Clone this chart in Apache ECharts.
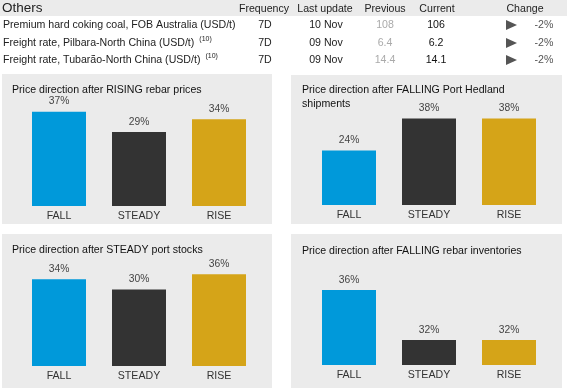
<!DOCTYPE html>
<html>
<head>
<meta charset="utf-8">
<script src="https://cdn.jsdelivr.net/npm/echarts@6/dist/echarts.min.js"></script>
<style>
html,body{margin:0;padding:0;background:#fff;}
#c{width:567px;height:388px;}
</style>
</head>
<body>
<div id="c"></div>
<script>
// ---- Data ----
const categories = ['FALL', 'STEADY', 'RISE'];
const risingRebarPrices = [37, 29, 34];
const fallingPortHedland = [24, 38, 38];
const steadyPortStocks = [34, 30, 36];
const fallingRebarInventories = [36, 32, 32];
const panelTitles = [
  'Price direction after RISING rebar prices',
  'Price direction after FALLING Port Hedland\nshipments',
  'Price direction after STEADY port stocks',
  'Price direction after FALLING rebar inventories'
];
const barColors = ['#0099DA', '#333333', '#D5A418'];

const tableSection = 'Others';
const tableHeaders = ['Frequency', 'Last update', 'Previous', 'Current', 'Change'];
const tableItems = [
  'Premium hard coking coal, FOB Australia (USD/t)',
  'Freight rate, Pilbara-North China (USD/t)',
  'Freight rate, Tubarão-North China (USD/t)'
];
const tableNotes = ['', '(10)', '(10)'];
const frequency = ['7D', '7D', '7D'];
const lastUpdate = ['10 Nov', '09 Nov', '09 Nov'];
const previous = ['108', '6.4', '14.4'];
const current = ['106', '6.2', '14.1'];
const change = ['-2%', '-2%', '-2%'];

// ---- Layout ----
const FONT = 'Liberation Sans, Arial, sans-serif';
const FS = 10.6;
const panels = [
  { data: risingRebarPrices, bg: [2, 74, 270, 150], grid: { left: 19, width: 240, top: 104, height: 102 }, min: 0, max: 40, title: [12, 83] },
  { data: fallingPortHedland, bg: [291, 75, 271, 149], grid: { left: 309, width: 240, top: 114, height: 91 }, min: 0, max: 40, title: [302, 83] },
  { data: steadyPortStocks, bg: [2, 234, 270, 154], grid: { left: 19, width: 240, top: 264, height: 102 }, min: 0, max: 40, title: [12, 243] },
  { data: fallingRebarInventories, bg: [291, 234, 271, 154], grid: { left: 309, width: 240, top: 265, height: 100 }, min: 30, max: 38, title: [302, 244] }
];

const cvs = document.createElement('canvas').getContext('2d');
cvs.font = FS + 'px ' + FONT;

const graphics = [];
// header band
graphics.push({ type: 'rect', shape: { x: 0, y: 0, width: 567, height: 16 }, style: { fill: '#EBEBEB' }, z: 0 });
graphics.push({ type: 'text', style: { text: tableSection, x: 2, y: 8.5, fontSize: 13.5, fontFamily: FONT, fill: '#222', verticalAlign: 'middle', align: 'left' }, z: 1 });
const colX = [264, 325, 385, 437, 525];
tableHeaders.forEach((h, i) => {
  graphics.push({ type: 'text', style: { text: h, x: colX[i], y: 9, fontSize: FS, fontFamily: FONT, fill: '#222', verticalAlign: 'middle', align: 'center' }, z: 1 });
});
const rowY = [25, 43, 60];
tableItems.forEach((t, r) => {
  const y = rowY[r];
  graphics.push({ type: 'text', style: { text: t, x: 3, y: y, fontSize: FS, fontFamily: FONT, fill: '#222', verticalAlign: 'middle', align: 'left' }, z: 1 });
  if (tableNotes[r]) {
    const w = cvs.measureText(t).width;
    graphics.push({ type: 'text', style: { text: tableNotes[r], x: 3 + w + 5, y: y - 4, fontSize: 7, fontFamily: FONT, fill: '#222', verticalAlign: 'middle', align: 'left' }, z: 1 });
  }
  graphics.push({ type: 'text', style: { text: frequency[r], x: 265, y: y, fontSize: FS, fontFamily: FONT, fill: '#222', verticalAlign: 'middle', align: 'center' }, z: 1 });
  graphics.push({ type: 'text', style: { text: lastUpdate[r], x: 326, y: y, fontSize: FS, fontFamily: FONT, fill: '#222', verticalAlign: 'middle', align: 'center' }, z: 1 });
  graphics.push({ type: 'text', style: { text: previous[r], x: 385, y: y, fontSize: FS, fontFamily: FONT, fill: '#AAAAAA', verticalAlign: 'middle', align: 'center' }, z: 1 });
  graphics.push({ type: 'text', style: { text: current[r], x: 436, y: y, fontSize: FS, fontFamily: FONT, fill: '#111', verticalAlign: 'middle', align: 'center' }, z: 1 });
  graphics.push({ type: 'polygon', shape: { points: [[506, y - 5], [517, y], [506, y + 5]] }, style: { fill: '#555555' }, z: 1 });
  graphics.push({ type: 'text', style: { text: change[r], x: 544, y: y, fontSize: FS, fontFamily: FONT, fill: '#555', verticalAlign: 'middle', align: 'center' }, z: 1 });
});
panels.forEach(p => {
  graphics.push({ type: 'rect', shape: { x: p.bg[0], y: p.bg[1], width: p.bg[2], height: p.bg[3] }, style: { fill: '#EBEBEB' }, z: 0 });
});

const option = {
  animation: false,
  backgroundColor: '#fff',
  textStyle: { fontFamily: FONT },
  graphic: { elements: graphics },
  title: panels.map((p, i) => ({
    text: panelTitles[i], left: p.title[0], top: p.title[1],
    padding: 0, itemGap: 0,
    textStyle: { fontSize: FS, fontWeight: 'normal', color: '#111', fontFamily: FONT, lineHeight: 14 }
  })),
  grid: panels.map(p => Object.assign({ containLabel: false }, p.grid)),
  xAxis: panels.map((p, i) => ({
    type: 'category', gridIndex: i, data: categories,
    axisLine: { show: false }, axisTick: { show: false },
    axisLabel: { margin: 5, fontSize: FS, color: '#333', fontFamily: FONT }
  })),
  yAxis: panels.map((p, i) => ({
    type: 'value', gridIndex: i, min: p.min, max: p.max, show: false,
    splitLine: { show: false }
  })),
  series: panels.map((p, i) => ({
    type: 'bar', xAxisIndex: i, yAxisIndex: i, barWidth: 54,
    data: p.data.map((v, j) => ({ value: v, itemStyle: { color: barColors[j] } })),
    label: { show: true, position: 'top', distance: 5, formatter: '{c}%', fontSize: 10.3, color: '#444', fontFamily: FONT }
  }))
};
const chart = echarts.init(document.getElementById('c'), null, { renderer: 'canvas' });
chart.setOption(option);
</script>
</body>
</html>
